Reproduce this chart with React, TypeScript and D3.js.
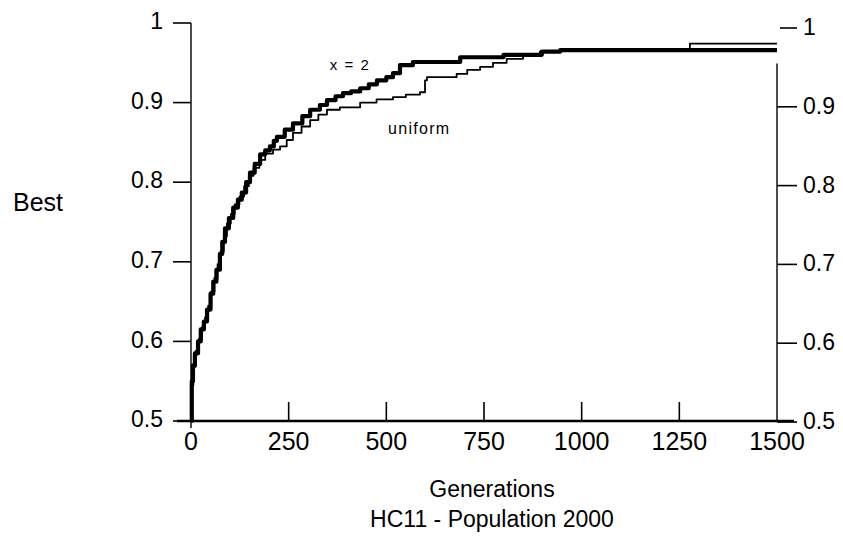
import React from 'react';
import * as d3 from 'd3';

const generationTicks = [0, 250, 500, 750, 1000, 1250, 1500];
const bestTicks = [0.5, 0.6, 0.7, 0.8, 0.9, 1];

const twoPointGen = [0, 2, 5, 10, 18, 25, 33, 41, 50, 57, 65, 74, 80, 87, 97, 108, 120, 130, 141, 151, 163, 177, 190, 202, 212, 220, 240, 261, 285, 305, 330, 348, 370, 389, 410, 433, 455, 476, 500, 517, 535, 568, 689, 800, 898, 945, 1500];
const twoPointBest = [0.5, 0.55, 0.57, 0.585, 0.6, 0.615, 0.625, 0.64, 0.66, 0.675, 0.69, 0.71, 0.725, 0.742, 0.755, 0.768, 0.778, 0.787, 0.8, 0.812, 0.823, 0.835, 0.84, 0.845, 0.852, 0.857, 0.866, 0.874, 0.883, 0.891, 0.897, 0.903, 0.908, 0.912, 0.914, 0.918, 0.923, 0.928, 0.932, 0.937, 0.947, 0.951, 0.957, 0.96, 0.964, 0.966, 0.966];

const uniformGen = [0, 2, 6, 12, 20, 28, 36, 44, 52, 60, 68, 76, 84, 92, 102, 112, 124, 136, 148, 160, 175, 190, 210, 228, 245, 261, 283, 305, 326, 348, 381, 433, 475, 517, 550, 586, 599, 604, 655, 680, 707, 740, 773, 808, 850, 893, 945, 1277, 1500];
const uniformBest = [0.5, 0.545, 0.568, 0.588, 0.603, 0.618, 0.63, 0.645, 0.663, 0.68, 0.697, 0.713, 0.732, 0.748, 0.76, 0.772, 0.782, 0.795, 0.808, 0.818, 0.828, 0.836, 0.841, 0.845, 0.853, 0.862, 0.87, 0.878, 0.885, 0.891, 0.894, 0.9, 0.904, 0.907, 0.91, 0.913, 0.928, 0.932, 0.932, 0.936, 0.941, 0.945, 0.95, 0.955, 0.96, 0.964, 0.966, 0.974, 0.974];

const FONT = "'Liberation Sans', Arial, Helvetica, sans-serif";

export default function App() {
  const W = 843;
  const H = 548;
  const x = d3.scaleLinear().domain([0, 1500]).range([191, 777]);
  const y = d3.scaleLinear().domain([0.5, 1]).range([421, 23]);
  const yR = d3.scaleLinear().domain([0.5, 1]).range([422, 28]);

  const mk = (gens: number[], vals: number[]) =>
    d3
      .line<[number, number]>()
      .x((d) => x(d[0]))
      .y((d) => y(d[1]))
      .curve(d3.curveStepAfter)(gens.map((g, i) => [g, vals[i]] as [number, number])) || '';

  const twoPath = mk(twoPointGen, twoPointBest);
  const uniPath = mk(uniformGen, uniformBest);
  const x0 = x(0);
  const x1 = x(1500);
  const yb = y(0.5);

  return (
    <svg
      width={W}
      height={H}
      style={{ position: 'fixed', left: 0, top: 0, background: '#fff' }}
      fontFamily={FONT}
    >
      <rect x={0} y={0} width={W} height={H} fill="#fff" />
      {/* left axis */}
      <line x1={x0} x2={x0} y1={y(1)} y2={yb + 7} stroke="#000" strokeWidth={1.4} />
      {bestTicks.map((t) => (
        <g key={'l' + t}>
          <line x1={x0 - 18} x2={x0} y1={y(t)} y2={y(t)} stroke="#000" strokeWidth={1.6} />
          <text x={x0 - 28} y={y(t)} dy="0.27em" textAnchor="end" fontSize={23}>
            {String(t)}
          </text>
        </g>
      ))}
      {/* right axis */}
      <line x1={x1} x2={x1} y1={yR(0.955)} y2={yb} stroke="#000" strokeWidth={1.4} />
      {bestTicks.map((t) => (
        <g key={'r' + t}>
          <line x1={x1 + (t === 1 ? 3 : 0)} x2={x1 + 20} y1={yR(t)} y2={yR(t)} stroke="#000" strokeWidth={1.6} />
          <text x={x1 + 26} y={yR(t)} dy="0.3em" textAnchor="start" fontSize={23}>
            {String(t)}
          </text>
        </g>
      ))}
      {/* bottom axis */}
      <line x1={x0 - 14} x2={x1 + 17} y1={yb} y2={yb} stroke="#000" strokeWidth={2.6} />
      {generationTicks.map((t) => (
        <g key={'b' + t}>
          {t > 0 && t < 1500 && (
            <line x1={x(t)} x2={x(t)} y1={yb} y2={yb - 19} stroke="#000" strokeWidth={1.6} />
          )}
          <text x={x(t)} y={yb + 29} textAnchor="middle" fontSize={25}>
            {String(t)}
          </text>
        </g>
      ))}
      {/* series */}
      <path d={uniPath} fill="none" stroke="#000" strokeWidth={1.8} strokeLinejoin="round" />
      <path d={twoPath} fill="none" stroke="#000" strokeWidth={4.2} strokeLinejoin="round" />
      {/* annotations */}
      <text x={350} y={70} textAnchor="middle" fontSize={15} letterSpacing={1.5}>
        x = 2
      </text>
      <text x={388} y={134} fontSize={16} letterSpacing={1.3}>
        uniform
      </text>
      {/* axis titles */}
      <text x={38} y={211} textAnchor="middle" fontSize={25}>
        Best
      </text>
      <text x={492} y={497} textAnchor="middle" fontSize={23}>
        Generations
      </text>
      <text x={492} y={527} textAnchor="middle" fontSize={23}>
        HC11 - Population 2000
      </text>
    </svg>
  );
}
